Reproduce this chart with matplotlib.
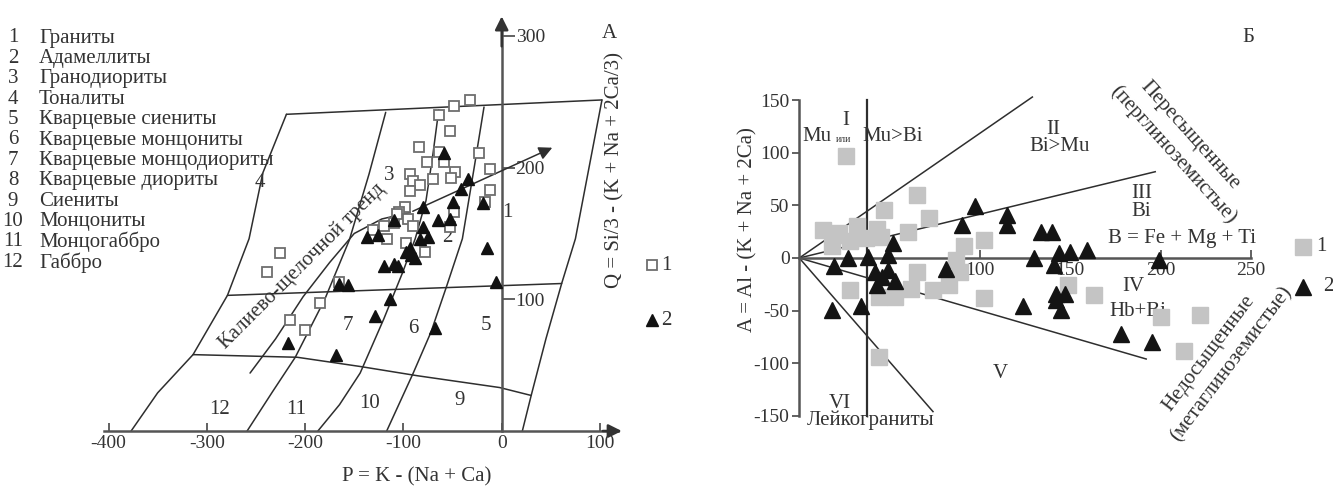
import matplotlib
matplotlib.use("Agg")
import matplotlib.pyplot as plt
import numpy as np

plt.rcParams['font.family'] = ['Liberation Serif', 'DejaVu Serif']
plt.rcParams['axes.unicode_minus'] = False

TXT = '#333333'
LN = '#2e2e2e'
AX = '#555555'
FS = 15
TFS = 14

# ---------------- data: left panel (P-Q diagram) ----------------
legend_items = ["Граниты", "Адамеллиты", "Гранодиориты", "Тоналиты", "Кварцевые сиениты",
                "Кварцевые монцониты", "Кварцевые монцодиориты", "Кварцевые диориты",
                "Сиениты", "Монцониты", "Монцогаббро", "Габбро"]

# field boundaries (P, Q)
h1_x = [-219, 102]; h1_y = [240.5, 251.4]
h2_x = [-279, 61]; h2_y = [103, 112]
h3_x = [-314, -208, -144, -86, -2, 30]; h3_y = [58, 56, 49, 42, 33, 27]
s0_x = [-219, -243, -257, -279, -314, -350, -377]; s0_y = [240.5, 196, 146, 103, 58, 29, 0]
s1_x = [-118, -135, -155, -180, -210, -233, -259]; s1_y = [242, 195, 145, 100, 56, 30, 0]
s2_x = [-64, -70, -77, -88, -101, -120, -144, -165, -187]; s2_y = [244, 210, 175, 146, 120, 85, 44, 20, 0]
s3_x = [-18, -28, -40, -56, -72, -90, -117]; s3_y = [246, 200, 146, 110, 75, 44, 0]
s4_x = [102, 75, 61, 45, 30, 21]; s4_y = [251.4, 146, 112, 70, 27, 0]

trend_x = [-256, -230, -202, -175, -150, -122, -93]
trend_y = [44, 70, 102, 128, 150, 161, 166]
trend_arrow_end = (54, 216)

field_labels = ["1", "2", "3", "4", "5", "6", "7", "9", "10", "11", "12"]
field_lx = [6, -55, -114, -246, -16, -90, -156, -43, -134, -209, -287]
field_ly = [166, 147, 194, 189, 80, 78, 80, 23, 21, 16, 16]

p_ticks = [-400, -300, -200, -100, 0, 100]
q_ticks = [100, 200, 300]

sq1_x = [-49, -32, -64, -53, -84, -64, -23, -76, -59, -12, -47, -93, -90, -83, -70, -52, -93, -12,
         -98, -104, -95, -110, -120, -49, -53, -90, -17, -131, -117, -97, -78, -226, -239, -185,
         -215, -200, -166, -107]
sq1_y = [247, 251, 240, 228, 216, 212, 211, 204, 204, 199, 197, 195, 190, 187, 191, 192, 182, 183,
         170, 166, 161, 158, 156, 166, 155, 156, 174, 153, 146, 143, 136, 135, 121, 97,
         84, 77, 113, 165]
tr1_x = [-59, -34, -41, -19, -50, -80, -110, -53, -65, -80, -83, -75, -137, -126, -15, -93, -97, -92,
         -88, -120, -110, -105, -166, -156, -6, -114, -129, -68, -217, -169]
tr1_y = [211, 191, 184, 173, 174, 170, 160, 161, 160, 155, 146, 147, 147, 149, 139, 139, 136, 134,
         131, 125, 127, 125, 112, 111, 113, 100, 87, 78, 67, 58]

# ---------------- data: right panel (A-B diagram) ----------------
b_ticks = [100, 150, 200, 250]
a_ticks = [-150, -100, -50, 0, 50, 100, 150]
vline_x = 37.5
ray_end_x = [129, 197, 192, 74]
ray_end_y = [153, 82, -96, -146]

sq2_x = [26, 65, 47, 72, 13, 32, 43, 60, 20, 28, 37, 45, 18, 22, 91, 102, 87, 89, 65, 28, 44, 53, 62,
         74, 83, 102, 44, 149, 163, 200, 222, 213]
sq2_y = [97, 60, 46, 38, 27, 30, 28, 25, 22, 16, 19, 20, 11, 24, 11, 17, -2, -13, -13, -30, -37, -37,
         -29, -30, -26, -38, -94, -26, -35, -56, -54, -88]
tr2_x = [97, 90, 115, 115, 52, 27, 38, 49, 19, 42, 49, 53, 43, 81, 18, 34, 46, 134, 140, 130, 141,
         144, 150, 159, 199, 142, 147, 145, 142, 124, 178, 195]
tr2_y = [49, 31, 41, 31, 14, 0, 1, 3, -8, -13, -11, -22, -26, -10, -49, -46, -18, 25, 25, 0, -7, 5, 6,
         8, -2, -34, -34, -49, -40, -46, -72, -80]

# ---------------- figure ----------------
W, H = 1333, 487
fig = plt.figure(figsize=(W / 100, H / 100), dpi=100)


def fx(px):
    return px / W


def fy(py):
    return 1 - py / H


# left list
for i, name in enumerate(legend_items):
    yy = fy(38 + 20.4 * i)
    fig.text(fx(13), yy, str(i + 1), ha='center', va='center', fontsize=FS, color=TXT)
    fig.text(fx(39), yy, name, ha='left', va='center', fontsize=FS, color=TXT)

# ---------- left axes ----------
axL = fig.add_axes([fx(80), 1 - 485 / H, 560 / W, 480 / H])
axL.set_xlim(-429.0, 140.7)
axL.set_ylim(-41.0, 323.5)
axL.patch.set_alpha(0)
for s in ['top', 'left']:
    axL.spines[s].set_visible(False)
axL.spines['bottom'].set_position(('data', 0))
axL.spines['bottom'].set_bounds(-405, 118)
axL.spines['right'].set_position(('data', 0))
axL.spines['right'].set_bounds(0, 308)
for s in ['bottom', 'right']:
    axL.spines[s].set_color(AX)
    axL.spines[s].set_linewidth(1.8)
axL.yaxis.set_ticks_position('right')
axL.set_xticks(p_ticks)
axL.set_xticklabels([str(v) for v in p_ticks])
axL.set_yticks(q_ticks)
axL.set_yticklabels([str(v) for v in q_ticks])
axL.tick_params(axis='x', direction='in', length=6, width=1.3, color=AX, pad=3,
                labelsize=TFS, labelcolor=TXT)
axL.tick_params(axis='y', direction='out', length=9, width=1.3, color=AX, pad=1,
                labelsize=TFS, labelcolor=TXT)
axL.annotate('', xy=(125, 0), xytext=(100, 0),
             arrowprops=dict(arrowstyle='-|>', color='#333333', lw=1.8, mutation_scale=20),
             annotation_clip=False)
axL.annotate('', xy=(0, 317), xytext=(0, 290),
             arrowprops=dict(arrowstyle='-|>', color='#333333', lw=1.8, mutation_scale=20),
             annotation_clip=False)

for xs, ys in [(h1_x, h1_y), (h2_x, h2_y), (h3_x, h3_y), (s0_x, s0_y), (s1_x, s1_y),
               (s2_x, s2_y), (s3_x, s3_y), (s4_x, s4_y), (trend_x, trend_y)]:
    axL.plot(xs, ys, color=LN, lw=1.1, solid_capstyle='round')
axL.annotate('', xy=trend_arrow_end, xytext=(trend_x[-1], trend_y[-1]),
             arrowprops=dict(arrowstyle='-|>', color=LN, lw=1.1, mutation_scale=20))

for t, x, y in zip(field_labels, field_lx, field_ly):
    axL.text(x, y, t, ha='center', va='center', fontsize=FS, color=TXT)

axL.text(-203, 125, 'Калиево-щелочной тренд', rotation=45, ha='center', va='center',
         fontsize=FS, color=TXT, rotation_mode='anchor')

axL.plot(sq1_x, sq1_y, 's', ms=7, mfc='white', mec='#6e6e6e', mew=1.3, ls='none', zorder=5)
axL.plot(tr1_x, tr1_y, '^', ms=8, color='#111111', ls='none', zorder=6)

axL.text(-86, -35, 'P = K - (Na + Ca)', ha='center', va='center', fontsize=FS, color=TXT)
axL.text(115, 198, 'Q = Si/3 - (K + Na + 2Ca/3)', rotation=90, ha='center', va='center',
         fontsize=FS, color=TXT)
axL.text(110, 302, 'A', ha='center', va='center', fontsize=FS, color=TXT)

# left legend
axL.plot([153], [126], 's', ms=7, mfc='white', mec='#6e6e6e', mew=1.3, clip_on=False)
axL.text(162, 126, '1', ha='left', va='center', fontsize=FS, color=TXT, clip_on=False)
axL.plot([153], [84], '^', ms=8, color='#111111', clip_on=False)
axL.text(162, 84, '2', ha='left', va='center', fontsize=FS, color=TXT, clip_on=False)

# ---------- right axes ----------
axR = fig.add_axes([fx(760), 1 - 480 / H, 573 / W, 460 / H])
axR.set_xlim(-21.75, 295.4)
axR.set_ylim(-211.0, 226.2)
axR.patch.set_alpha(0)
for s in ['top', 'right']:
    axR.spines[s].set_visible(False)
axR.spines['left'].set_position(('data', 0))
axR.spines['left'].set_bounds(-150, 150)
axR.spines['bottom'].set_position(('data', 0))
axR.spines['bottom'].set_bounds(0, 250)
for s in ['bottom', 'left']:
    axR.spines[s].set_color(AX)
    axR.spines[s].set_linewidth(1.8)
axR.set_xticks(b_ticks)
axR.set_xticklabels([str(v) for v in b_ticks])
axR.set_yticks(a_ticks)
axR.set_yticklabels([str(v) for v in a_ticks])
axR.tick_params(axis='x', direction='in', length=6, width=1.3, color=AX, pad=3,
                labelsize=TFS, labelcolor=TXT)
axR.tick_params(axis='y', direction='out', length=5, width=1.3, color=AX, pad=2,
                labelsize=TFS, labelcolor=TXT)

axR.plot([vline_x, vline_x], [-150, 150], color=LN, lw=1.6)
for ex, ey in zip(ray_end_x, ray_end_y):
    axR.plot([0, ex], [0, ey], color=LN, lw=1.1)

axR.plot(sq2_x, sq2_y, 's', ms=11, color='#c4c4c4', ls='none', zorder=5)
axR.plot(tr2_x, tr2_y, '^', ms=12, color='#141414', ls='none', zorder=6)

axR.text(25.7, 131, 'I', ha='center', va='center', fontsize=FS, color=TXT)
axR.text(1.5, 115, 'Mu', ha='left', va='center', fontsize=FS, color=TXT)
axR.text(24.5, 113, 'или', ha='center', va='center', fontsize=7, color=TXT)
axR.text(35, 115, 'Mu>Bi', ha='left', va='center', fontsize=FS, color=TXT)
axR.text(140.6, 121.7, 'II', ha='center', va='center', fontsize=FS, color=TXT)
axR.text(144, 105.8, 'Bi>Mu', ha='center', va='center', fontsize=FS, color=TXT)
axR.text(189.5, 61.5, 'III', ha='center', va='center', fontsize=FS, color=TXT)
axR.text(189.5, 44, 'Bi', ha='center', va='center', fontsize=FS, color=TXT)
axR.text(211.6, 18.7, 'B = Fe + Mg + Ti', ha='center', va='center', fontsize=FS, color=TXT)
axR.text(184.8, -27.3, 'IV', ha='center', va='center', fontsize=FS, color=TXT)
axR.text(187.6, -51, 'Hb+Bi', ha='center', va='center', fontsize=FS, color=TXT)
axR.text(111, -109.6, 'V', ha='center', va='center', fontsize=FS, color=TXT)
axR.text(22.5, -138, 'VI', ha='center', va='center', fontsize=FS, color=TXT)
axR.text(4, -154, 'Лейкограниты', ha='left', va='center', fontsize=FS, color=TXT)
axR.text(248.5, 210, 'Б', ha='center', va='center', fontsize=FS, color=TXT)
axR.text(216.2, 116.9, 'Пересыщенные', rotation=-48, ha='center', va='center',
         rotation_mode='anchor', fontsize=FS, color=TXT)
axR.text(206.8, 97.9, '(перглиноземистые)', rotation=-48, ha='center', va='center',
         rotation_mode='anchor', fontsize=FS, color=TXT)
axR.text(227, -90.6, 'Недосыщенные', rotation=53, ha='center', va='center',
         rotation_mode='anchor', fontsize=FS, color=TXT)
axR.text(239.3, -100.8, '(метаглиноземистые)', rotation=53, ha='center', va='center',
         rotation_mode='anchor', fontsize=FS, color=TXT)
axR.text(-28.4, 26.6, 'A = Al - (K + Na + 2Ca)', rotation=90, ha='center', va='center',
         fontsize=FS, color=TXT)

# right legend
axR.plot([278.6], [10.7], 's', ms=11, color='#c4c4c4', clip_on=False)
axR.text(286, 10.7, '1', ha='left', va='center', fontsize=FS, color=TXT, clip_on=False)
axR.plot([278.6], [-27.3], '^', ms=12, color='#141414', clip_on=False)
axR.text(290, -27.3, '2', ha='left', va='center', fontsize=FS, color=TXT, clip_on=False)

fig.savefig('out.png', dpi=100)
